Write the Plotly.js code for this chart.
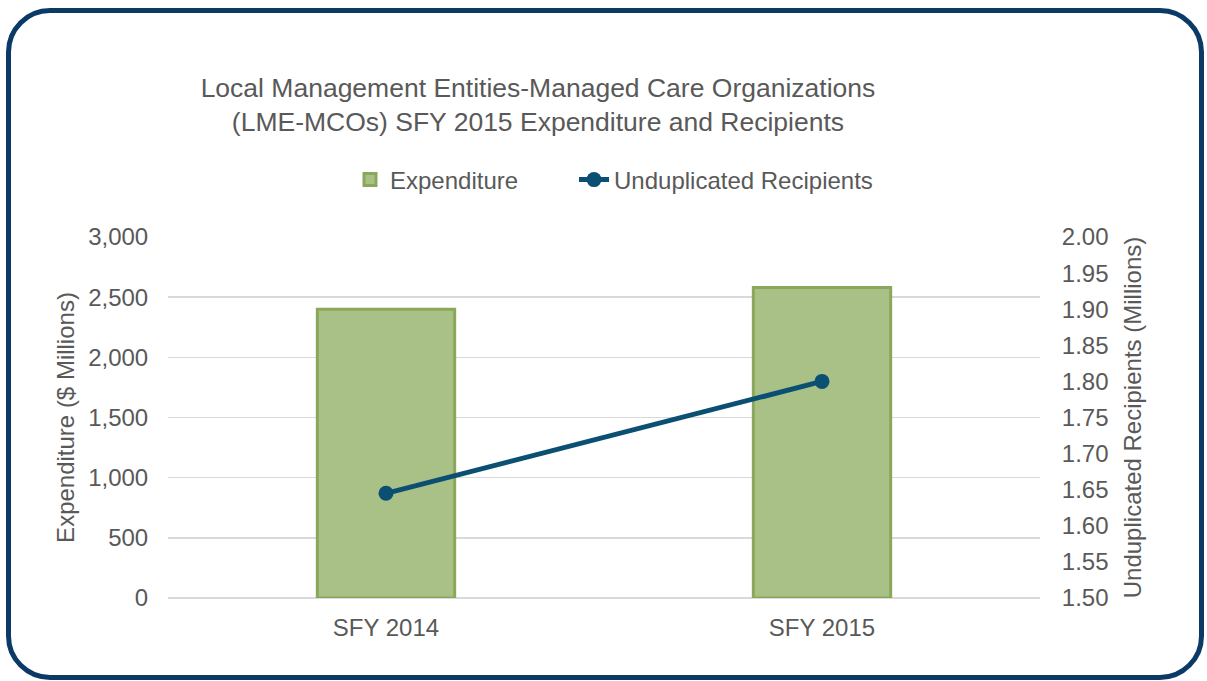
<!DOCTYPE html>
<html>
<head>
<meta charset="utf-8">
<script src="https://cdn.plot.ly/plotly-3.0.1.min.js"></script>
<style>
  html, body { margin: 0; padding: 0; background: #ffffff; }
  #frame { position: absolute; left: 6px; top: 8px; width: 1188px; height: 662px;
           border: 5px solid #0b3a66; border-radius: 44px; box-sizing: content-box; }
  #chart { position: absolute; left: 0; top: 0; width: 1207px; height: 681px; }
</style>
</head>
<body>
<div id="frame"></div>
<div id="chart"></div>
<script>
const categories = ["SFY 2014", "SFY 2015"];
const expenditure = [2400, 2580];           // $ Millions
const recipients = [1.645, 1.80];           // Millions
const leftTicks = [0, 500, 1000, 1500, 2000, 2500, 3000];
const rightTicks = [1.50, 1.55, 1.60, 1.65, 1.70, 1.75, 1.80, 1.85, 1.90, 1.95, 2.00];

const grey = "#595959";
const fontFam = "'Liberation Sans', Arial, sans-serif";

const traces = [
  {
    type: "bar", name: "Expenditure", x: categories, y: expenditure,
    width: 0.315, legend: "legend",
    marker: { color: "#a9c087", line: { color: "#8aa85a", width: 3 } },
    yaxis: "y"
  },
  {
    type: "scatter", mode: "lines+markers", name: "Unduplicated Recipients",
    x: categories, y: recipients, yaxis: "y2", legend: "legend2",
    line: { color: "#0b4f73", width: 5 },
    marker: { color: "#0b4f73", size: 15 }
  }
];

const legendFont = { family: fontFam, size: 24, color: grey };

const layout = {
  width: 1207, height: 681,
  paper_bgcolor: "rgba(0,0,0,0)", plot_bgcolor: "rgba(0,0,0,0)",
  margin: { l: 168, r: 167, t: 237, b: 83 },
  font: { family: fontFam, color: grey, size: 24 },
  showlegend: true,
  title: {
    text: "Local Management Entities-Managed Care Organizations<br>(LME-MCOs) SFY 2015 Expenditure and Recipients",
    font: { family: fontFam, size: 26.5, color: grey },
    xref: "container", x: 0.4457, xanchor: "center",
    yref: "container", y: 1 - 97 / 681, yanchor: "top"
  },
  legend: {
    orientation: "h", xref: "paper", x: (350 - 168) / 872, xanchor: "left",
    yref: "container", y: 1 - 180 / 681, yanchor: "middle",
    font: legendFont, bgcolor: "rgba(0,0,0,0)"
  },
  legend2: {
    orientation: "h", xref: "paper", x: (574 - 168) / 872, xanchor: "left",
    yref: "container", y: 1 - 180 / 681, yanchor: "middle",
    font: legendFont, bgcolor: "rgba(0,0,0,0)"
  },
  xaxis: {
    type: "category", showgrid: false, zeroline: false, showline: false,
    ticks: "outside", ticklen: 8, tickcolor: "rgba(0,0,0,0)",
    tickfont: { family: fontFam, size: 24, color: grey }
  },
  yaxis: {
    range: [0, 3000], tickvals: leftTicks, tickformat: ",d",
    showgrid: true, gridcolor: "#d9d9d9", gridwidth: 1.5,
    zeroline: true, zerolinecolor: "#d9d9d9", zerolinewidth: 1.5,
    showline: false, ticks: "outside", ticklen: 14, tickcolor: "rgba(0,0,0,0)",
    tickfont: { family: fontFam, size: 24, color: grey },
    title: { text: "Expenditure ($ Millions)", font: { family: fontFam, size: 24, color: grey }, standoff: 6 }
  },
  yaxis2: {
    overlaying: "y", side: "right",
    range: [1.5, 2.0], tickvals: rightTicks, tickformat: ".2f",
    showgrid: false, zeroline: false, showline: false,
    ticks: "outside", ticklen: 16, tickcolor: "rgba(0,0,0,0)",
    tickfont: { family: fontFam, size: 24, color: grey },
    title: { text: "Unduplicated Recipients (Millions)", font: { family: fontFam, size: 24, color: grey }, standoff: 16 }
  }
};

Plotly.newPlot("chart", traces, layout, { displayModeBar: false, staticPlot: true });
</script>
</body>
</html>
